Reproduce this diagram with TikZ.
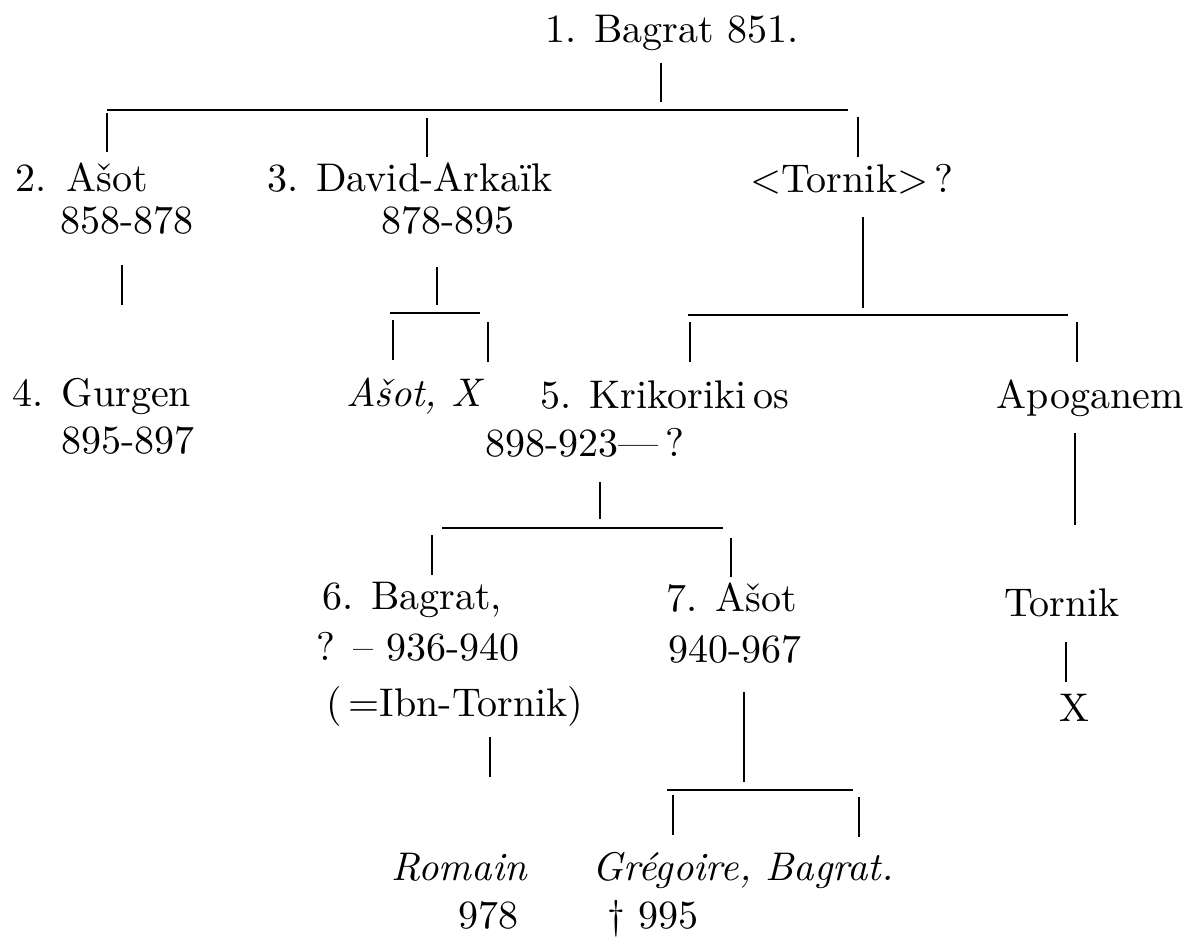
\documentclass[tikz,border=0pt]{standalone}
\usepackage{fontspec}
\setmainfont{lmroman10-regular.otf}[ItalicFont=lmroman10-italic.otf]
\begin{document}
\begin{tikzpicture}[x=1pt,y=-1pt,
  txt/.style={anchor=base, inner sep=0pt, font=\fontsize{40}{48}\selectfont},
  itxt/.style={txt, font=\fontsize{40}{48}\selectfont\itshape},
  ln/.style={line width=2.4pt}]
\useasboundingbox (0,0) rectangle (1194,939);
% texts
\node[txt] (b1) at (672,43) {1. Bagrat 851.};
\node[txt] (a2) at (82,191) {2.\enspace Ašot};
\node[txt] (a2d) at (127,233) {858-878};
\node[txt] (d3) at (410,191) {3. David-Arkaïk};
\node[txt] (d3d) at (448,233) {878-895};
\node[txt] (tor) at (852,192) {<Tornik>\,?};
\node[txt] (g4) at (102,406) {4. Gurgen};
\node[txt] (g4d) at (128,453) {895-897};
\node[itxt] (ax) at (414,406) {Ašot, X};
\node[txt] (k5) at (665,408) {5. Krikoriki\,os};
\node[txt] (k5d) at (585,456) {898-923---\,?};
\node[txt] (apo) at (1090,408) {Apoganem};
\node[txt] (b6) at (412,609) {6. Bagrat,};
\node[txt] (b6d) at (418,660) {? -- 936-940};
\node[txt] (b6i) at (455,716) {(\,=Ibn-Tornik)};
\node[txt] (a7) at (732,611) {7. Ašot};
\node[txt] (a7d) at (735,662) {940-967};
\node[txt] (tk) at (1062,616) {Tornik};
\node[txt] (tx) at (1074,721) {X};
\node[itxt] (rom) at (459,880) {Romain};
\node[txt] (romd) at (488,928) {978};
\node[itxt] (gb) at (743,880) {Grégoire, Bagrat.};
\node[txt] (gbd) at (653,928) {\textdagger\ 995};
% connector coordinates
\coordinate (v1t) at (661,63);  \coordinate (v1b) at (661,102);
\coordinate (h1l) at (107,110); \coordinate (h1r) at (848,110);
\coordinate (d1at) at (107,113); \coordinate (d1ab) at (107,152);
\coordinate (d1bt) at (427,118); \coordinate (d1bb) at (427,157);
\coordinate (d1ct) at (858,117); \coordinate (d1cb) at (858,157);
\coordinate (v2at) at (122,265); \coordinate (v2ab) at (122,305);
\coordinate (v2bt) at (437,267); \coordinate (v2bb) at (437,305);
\coordinate (v2ct) at (863,217); \coordinate (v2cb) at (863,308);
\coordinate (h2l) at (390,313); \coordinate (h2r) at (480,313);
\coordinate (d2at) at (393,320); \coordinate (d2ab) at (393,360);
\coordinate (d2bt) at (488,322); \coordinate (d2bb) at (488,362);
\coordinate (h3l) at (688,315); \coordinate (h3r) at (1068,315);
\coordinate (d3at) at (690,322); \coordinate (d3ab) at (690,362);
\coordinate (d3bt) at (1077,322); \coordinate (d3bb) at (1077,362);
\coordinate (v5t) at (600,482); \coordinate (v5b) at (600,519);
\coordinate (h5l) at (442,528); \coordinate (h5r) at (723,528);
\coordinate (d5at) at (432,535); \coordinate (d5ab) at (432,575);
\coordinate (d5bt) at (731,538); \coordinate (d5bb) at (731,577);
\coordinate (vapt) at (1075,433); \coordinate (vapb) at (1075,525);
\coordinate (v6t) at (490,737); \coordinate (v6b) at (490,777);
\coordinate (v7t) at (744,692); \coordinate (v7b) at (744,782);
\coordinate (h7l) at (667,790); \coordinate (h7r) at (853,790);
\coordinate (d7at) at (673,795); \coordinate (d7ab) at (673,835);
\coordinate (d7bt) at (859,797); \coordinate (d7bb) at (859,837);
\coordinate (vtkt) at (1066,642); \coordinate (vtkb) at (1066,682);
% connectors
\draw[ln] (v1t) -- (v1b);
\draw[ln] (h1l) -- (h1r);
\draw[ln] (d1at) -- (d1ab);
\draw[ln] (d1bt) -- (d1bb);
\draw[ln] (d1ct) -- (d1cb);
\draw[ln] (v2at) -- (v2ab);
\draw[ln] (v2bt) -- (v2bb);
\draw[ln] (v2ct) -- (v2cb);
\draw[ln] (h2l) -- (h2r);
\draw[ln] (d2at) -- (d2ab);
\draw[ln] (d2bt) -- (d2bb);
\draw[ln] (h3l) -- (h3r);
\draw[ln] (d3at) -- (d3ab);
\draw[ln] (d3bt) -- (d3bb);
\draw[ln] (v5t) -- (v5b);
\draw[ln] (h5l) -- (h5r);
\draw[ln] (d5at) -- (d5ab);
\draw[ln] (d5bt) -- (d5bb);
\draw[ln] (vapt) -- (vapb);
\draw[ln] (v6t) -- (v6b);
\draw[ln] (v7t) -- (v7b);
\draw[ln] (h7l) -- (h7r);
\draw[ln] (d7at) -- (d7ab);
\draw[ln] (d7bt) -- (d7bb);
\draw[ln] (vtkt) -- (vtkb);
\end{tikzpicture}
\end{document}
